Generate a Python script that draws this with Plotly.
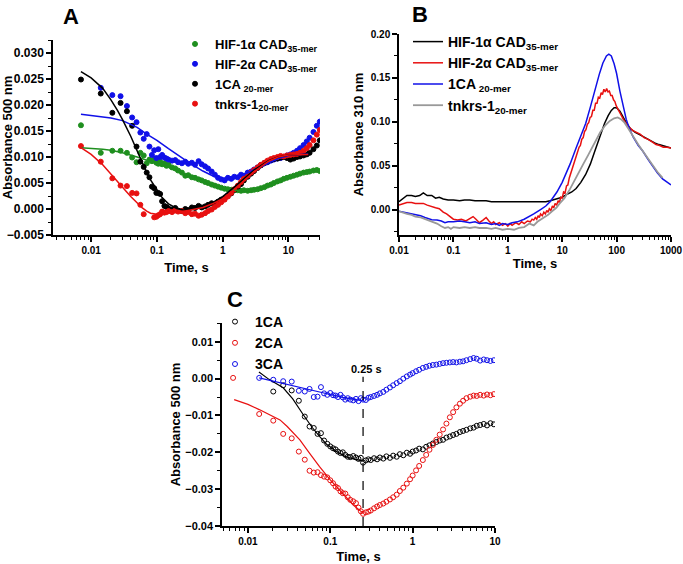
import math
import plotly.graph_objects as go

FONT = "Liberation Sans, Arial, sans-serif"
W, H = 683, 564

# ---------------- panel A: absorbance 500 nm, points + fits ----------------
a_green_t = [0.007, 0.014, 0.021, 0.028, 0.035, 0.042, 0.049, 0.056, 0.063, 0.070, 0.077, 0.084,
             0.091, 0.098, 0.105, 0.112, 0.12, 0.13, 0.14, 0.15, 0.17, 0.19, 0.21, 0.24, 0.27, 0.3,
             0.34, 0.38, 0.43, 0.48, 0.54, 0.6, 0.68, 0.76, 0.85, 0.95, 1.07, 1.2, 1.35, 1.5, 1.7,
             1.9, 2.1, 2.4, 2.7, 3.0, 3.4, 3.8, 4.3, 4.8, 5.4, 6.0, 6.8, 7.6, 8.5, 9.5, 10.7, 12,
             13.5, 15, 17, 19, 21, 24, 27, 30]
a_green_v = [0.0161, 0.0108, 0.0112, 0.0112, 0.0108, 0.0099, 0.0090, 0.0108, 0.0103, 0.0088, 0.0095,
             0.0092, 0.0096, 0.0089, 0.0087, 0.0091, 0.0086, 0.0088, 0.0083, 0.0085, 0.0080, 0.0078,
             0.0074, 0.0070, 0.0064, 0.0065, 0.0061, 0.0060, 0.0057, 0.0055, 0.0052, 0.0050, 0.0047,
             0.0045, 0.0043, 0.0041, 0.0039, 0.0038, 0.0037, 0.0036, 0.0036, 0.0035, 0.0036, 0.0035,
             0.0036, 0.0037, 0.0038, 0.0040, 0.0042, 0.0045, 0.0047, 0.0050, 0.0053, 0.0055, 0.0058,
             0.0060, 0.0062, 0.0064, 0.0066, 0.0068, 0.0070, 0.0071, 0.0072, 0.0074, 0.0075, 0.0073]
a_green_fit_t = [0.007, 0.01, 0.015, 0.02, 0.03, 0.05, 0.07, 0.1, 0.15, 0.2, 0.3, 0.5, 0.7, 1, 1.5,
                 2, 3, 5, 7, 10, 15, 20, 30]
a_green_fit_v = [0.0118, 0.0117, 0.0115, 0.0113, 0.0108, 0.0100, 0.0094, 0.0088, 0.0080, 0.0073,
                 0.0064, 0.0053, 0.0046, 0.0040, 0.0036, 0.0035, 0.0036, 0.0043, 0.0051, 0.0059,
                 0.0067, 0.0071, 0.0074]

a_blue_t = [0.014, 0.021, 0.028, 0.035, 0.042, 0.049, 0.056, 0.063, 0.070, 0.077, 0.084, 0.091,
            0.098, 0.105, 0.112, 0.12, 0.13, 0.14, 0.15, 0.17, 0.19, 0.21, 0.24, 0.27, 0.3, 0.34,
            0.38, 0.43, 0.48, 0.54, 0.6, 0.68, 0.76, 0.85, 0.95, 1.07, 1.2, 1.35, 1.5, 1.7, 1.9,
            2.1, 2.4, 2.7, 3.0, 3.4, 3.8, 4.3, 4.8, 5.4, 6.0, 6.8, 7.6, 8.5, 9.5, 10.7, 12, 13.5,
            15, 17, 19, 21, 24, 27, 30]
a_blue_v = [0.0233, 0.0219, 0.0217, 0.0198, 0.0176, 0.0167, 0.0147, 0.0135, 0.0144, 0.0120, 0.0104,
            0.0113, 0.0098, 0.0115, 0.0100, 0.0104, 0.0099, 0.0097, 0.0095, 0.0093, 0.0094, 0.0090,
            0.0088, 0.0091, 0.0087, 0.0089, 0.0085, 0.0092, 0.0086, 0.0082, 0.0078, 0.0072, 0.0066,
            0.0060, 0.0057, 0.0055, 0.0060, 0.0058, 0.0062, 0.0061, 0.0066, 0.0064, 0.0070, 0.0072,
            0.0076, 0.0080, 0.0084, 0.0088, 0.0090, 0.0093, 0.0095, 0.0097, 0.0098, 0.0100, 0.0103,
            0.0105, 0.0108, 0.0112, 0.0117, 0.0123, 0.0130, 0.0137, 0.0148, 0.0160, 0.0168]
a_blue_fit_t = [0.007, 0.01, 0.02, 0.03, 0.05, 0.07, 0.1, 0.15, 0.2, 0.3, 0.5, 0.7, 1, 1.5, 2, 3,
                5, 7, 10, 15, 20]
a_blue_fit_v = [0.0182, 0.0180, 0.0175, 0.0170, 0.0157, 0.0144, 0.0132, 0.0116, 0.0105, 0.0090,
                0.0073, 0.0064, 0.0059, 0.0060, 0.0065, 0.0075, 0.0089, 0.0097, 0.0103, 0.0105,
                0.0106]

a_black_t = [0.007, 0.014, 0.021, 0.028, 0.035, 0.042, 0.049, 0.056, 0.063, 0.070, 0.077, 0.084,
             0.091, 0.098, 0.105, 0.112, 0.12, 0.13, 0.14, 0.15, 0.17, 0.19, 0.21, 0.24, 0.27, 0.3,
             0.34, 0.38, 0.43, 0.48, 0.54, 0.6, 0.68, 0.76, 0.85, 0.95, 1.07, 1.2, 1.35, 1.5, 1.7,
             1.9, 2.1, 2.4, 2.7, 3.0, 3.4, 3.8, 4.3, 4.8, 5.4, 6.0, 6.8, 7.6, 8.5, 9.5, 10.7, 12,
             13.5, 15, 17, 19, 21, 24, 27, 30]
a_black_v = [0.0249, 0.0222, 0.0185, 0.0204, 0.0188, 0.0160, 0.0120, 0.0091, 0.0081, 0.0070, 0.0061,
             0.0043, 0.0040, 0.0031, 0.0031, 0.0029, 0.0015, 0.0006, 0.0004, 0.0001, -0.0001, 0.0002,
             -0.0003, -0.0004, 0.0000, -0.0002, 0.0003, 0.0002, 0.0006, 0.0003, 0.0005, 0.0008,
             0.0011, 0.0009, 0.0014, 0.0018, 0.0020, 0.0026, 0.0030, 0.0037, 0.0043, 0.0048, 0.0055,
             0.0062, 0.0068, 0.0073, 0.0079, 0.0084, 0.0088, 0.0091, 0.0094, 0.0096, 0.0097, 0.0099,
             0.0100, 0.0098, 0.0095, 0.0097, 0.0100, 0.0101, 0.0103, 0.0105, 0.0108, 0.0115, 0.0122,
             0.0132]
a_black_fit_t = [0.007, 0.01, 0.015, 0.02, 0.025, 0.03, 0.04, 0.05, 0.06, 0.07, 0.08, 0.1, 0.12,
                 0.15, 0.2, 0.25, 0.3, 0.4, 0.5, 0.7, 1, 1.5, 2, 3, 5, 7, 10, 15, 20]
a_black_fit_v = [0.0264, 0.0252, 0.0232, 0.0210, 0.0190, 0.0172, 0.0140, 0.0112, 0.0088, 0.0070,
                 0.0056, 0.0036, 0.0022, 0.0010, 0.0001, -0.0002, -0.0002, 0.0001, 0.0004, 0.0012,
                 0.0024, 0.0042, 0.0056, 0.0075, 0.0093, 0.0100, 0.0104, 0.0105, 0.0105]

a_red_t = [0.007, 0.014, 0.021, 0.028, 0.035, 0.042, 0.049, 0.056, 0.063, 0.091, 0.098, 0.105,
           0.112, 0.12, 0.13, 0.14, 0.15, 0.17, 0.19, 0.21, 0.24, 0.27, 0.3, 0.34, 0.38, 0.43,
           0.48, 0.54, 0.6, 0.68, 0.76, 0.85, 0.95, 1.07, 1.2, 1.35, 1.5, 1.7, 1.9, 2.1, 2.4, 2.7,
           3.0, 3.4, 3.8, 4.3, 4.8, 5.4, 6.0, 6.8, 7.6, 8.5, 9.5, 10.7, 12, 13.5, 15, 17, 19, 21,
           24, 27, 30]
a_red_v = [0.0121, 0.0091, 0.0059, 0.0045, 0.0044, 0.0031, 0.0030, 0.0008, -0.0010, -0.0016,
           -0.0015, -0.0012, -0.0010, -0.0005, -0.0007, -0.0006, -0.0004, -0.0006, -0.0003, -0.0005,
           -0.0004, -0.0008, -0.0006, -0.0010, -0.0009, -0.0013, -0.0011, -0.0008, -0.0004, -0.0001,
           0.0004, 0.0008, 0.0013, 0.0018, 0.0024, 0.0031, 0.0038, 0.0045, 0.0052, 0.0058, 0.0064,
           0.0070, 0.0075, 0.0080, 0.0085, 0.0089, 0.0093, 0.0096, 0.0098, 0.0100, 0.0102, 0.0101,
           0.0103, 0.0104, 0.0105, 0.0106, 0.0108, 0.0112, 0.0117, 0.0123, 0.0132, 0.0143, 0.0152]
a_red_fit_t = [0.007, 0.01, 0.015, 0.02, 0.03, 0.04, 0.05, 0.06, 0.07, 0.08, 0.1, 0.15, 0.2, 0.3,
               0.5, 0.7, 1, 1.5, 2, 3, 5, 7, 10, 15, 20]
a_red_fit_v = [0.0118, 0.0105, 0.0085, 0.0068, 0.0042, 0.0024, 0.0012, 0.0002, -0.0004, -0.0008,
               -0.0010, -0.0008, -0.0006, -0.0003, 0.0003, 0.0010, 0.0020, 0.0037, 0.0052, 0.0072,
               0.0092, 0.0100, 0.0104, 0.0105, 0.0105]

# ---------------- panel B: absorbance 310 nm traces ----------------
b_black_t = [0.01, 0.012, 0.014, 0.017, 0.02, 0.024, 0.028, 0.033, 0.04, 0.047, 0.055, 0.065, 0.08,
             0.1, 0.13, 0.16, 0.2, 0.25, 0.3, 0.4, 0.5, 0.7, 1, 1.5, 2, 3, 4, 5, 6, 8, 10, 12, 15,
             18, 22, 27, 33, 40, 50, 60, 70, 80, 90, 100, 115, 130, 150, 180, 220, 270, 330, 400,
             500, 600, 750, 900, 1000]
b_black_v = [0.009, 0.013, 0.016, 0.016, 0.015, 0.016, 0.019, 0.016, 0.016, 0.013, 0.014, 0.012,
             0.011, 0.011, 0.010, 0.011, 0.011, 0.010, 0.010, 0.010, 0.009, 0.009, 0.009, 0.009,
             0.009, 0.009, 0.009, 0.009, 0.010, 0.012, 0.014, 0.017, 0.020, 0.024, 0.031, 0.040,
             0.052, 0.067, 0.085, 0.098, 0.107, 0.113, 0.116, 0.116, 0.112, 0.106, 0.099, 0.092,
             0.088, 0.085, 0.082, 0.079, 0.076, 0.074, 0.072, 0.071, 0.070]

b_red_t = [0.01, 0.012, 0.014, 0.017, 0.02, 0.024, 0.028, 0.033, 0.04, 0.047, 0.055, 0.065, 0.075,
           0.085, 0.1, 0.12, 0.14, 0.17, 0.2, 0.23, 0.26, 0.3, 0.35, 0.4, 0.45, 0.5, 0.55, 0.6,
           0.7, 0.8, 0.9, 1.0, 1.1, 1.2, 1.4, 1.6, 1.8, 2.0, 2.3, 2.6, 2.8,
           3.0, 3.2, 3.4, 3.6, 3.8, 4.0, 4.3, 4.6, 4.9, 5.2, 5.5, 5.8, 6.2, 6.6, 7.0, 7.4, 7.9,
           8.4, 8.9, 9.4, 10, 10.6, 11.3, 12, 12.7, 13.5, 14.3, 15.2, 16.1, 17.1, 18.1, 19.2,
           20.4, 21.6, 22.9, 24.3, 25.8, 27.3, 29, 30.7, 32.6, 34.5, 36.6, 38.8, 41.1, 43.6,
           46.2, 49, 52, 55, 58.4, 61.9, 65.6, 69.5, 73.7, 78.1, 82.8, 87.8, 93, 98.6, 105, 111,
           118, 125, 133, 141, 150, 175, 200, 230, 270, 320, 380, 450, 530, 620, 720, 850, 1000]
b_red_v = [0.005, 0.007, 0.008, 0.008, 0.007, 0.007, 0.007, 0.005, 0.003, 0.002, 0.001, -0.003,
           -0.005, -0.008, -0.011, -0.012, -0.011, -0.013, -0.010, -0.008, -0.011, -0.015, -0.012,
           -0.009, -0.013, -0.016, -0.014, -0.017, -0.015, -0.018, -0.016, -0.019, -0.016, -0.018,
           -0.015, -0.017, -0.014, -0.016, -0.013, -0.014, -0.011,
           -0.012, -0.009, -0.011, -0.007, -0.009, -0.005, -0.007, -0.003, -0.005, -0.001, -0.003,
           0.001, -0.001, 0.004, 0.002, 0.007, 0.005, 0.010, 0.008, 0.014, 0.013, 0.020, 0.019,
           0.027, 0.028, 0.036, 0.041, 0.044, 0.051, 0.055, 0.061, 0.064, 0.071, 0.073, 0.080,
           0.082, 0.089, 0.091, 0.097, 0.099, 0.105, 0.106, 0.113, 0.113, 0.121, 0.121, 0.128,
           0.127, 0.133, 0.131, 0.137, 0.134, 0.138, 0.134, 0.135, 0.130, 0.130, 0.125, 0.123,
           0.118, 0.115, 0.111, 0.108, 0.105, 0.103, 0.100, 0.098, 0.093, 0.090, 0.088, 0.086,
           0.082, 0.080, 0.077, 0.074, 0.073, 0.071, 0.071, 0.070]

b_blue_t = [0.01, 0.012, 0.014, 0.017, 0.02, 0.025, 0.03, 0.035, 0.04, 0.05, 0.06, 0.07, 0.08, 0.1,
            0.13, 0.16, 0.2, 0.25, 0.3, 0.4, 0.5, 0.6, 0.7, 0.8, 1.0, 1.2, 1.5, 2.0, 2.5, 3, 4, 5,
            6, 8, 10, 12, 14, 18, 22, 27, 33, 40, 48, 56, 65, 72, 80, 90, 100, 115, 130, 150, 170,
            200, 250, 300, 380, 460, 560, 700, 850, 1000]
b_blue_v = [-0.002, -0.003, -0.004, -0.005, -0.006, -0.007, -0.009, -0.010, -0.0115, -0.012, -0.013,
            -0.015, -0.014, -0.014, -0.013, -0.014, -0.015, -0.014, -0.016, -0.015, -0.017, -0.016,
            -0.018, -0.016, -0.017, -0.015, -0.014, -0.011, -0.008, -0.005, 0.000, 0.004, 0.009,
            0.020, 0.031, 0.042, 0.052, 0.070, 0.083, 0.098, 0.117, 0.137, 0.154, 0.167, 0.175,
            0.177, 0.175, 0.166, 0.155, 0.135, 0.119, 0.103, 0.093, 0.083, 0.073, 0.067, 0.057,
            0.049, 0.042, 0.035, 0.031, 0.028]

b_grey_t = [0.01, 0.012, 0.014, 0.017, 0.02, 0.025, 0.03, 0.035, 0.04, 0.05, 0.06, 0.07, 0.08, 0.09,
            0.1, 0.13, 0.16, 0.2, 0.25, 0.3, 0.4, 0.5, 0.6, 0.8, 1.0, 1.3, 1.6, 2.0, 2.5, 3.0, 3.5,
            4.4, 5.5, 6.5, 7.8, 9, 11, 13.8, 17, 20, 24.5, 30, 36, 42, 50, 62, 75, 90, 105, 120,
            140, 165, 200, 250, 300, 380, 460, 560, 700]
b_grey_v = [-0.002, -0.004, -0.005, -0.006, -0.008, -0.009, -0.011, -0.012, -0.014, -0.016, -0.019,
            -0.021, -0.020, -0.022, -0.020, -0.021, -0.020, -0.021, -0.020, -0.021, -0.021, -0.022,
            -0.021, -0.023, -0.022, -0.023, -0.021, -0.020, -0.016, -0.018, -0.014, -0.010, -0.006,
            -0.002, 0.002, 0.007, 0.013, 0.023, 0.034, 0.042, 0.052, 0.062, 0.071, 0.079, 0.088,
            0.096, 0.101, 0.104, 0.105, 0.103, 0.099, 0.092, 0.083, 0.074, 0.067, 0.058, 0.050,
            0.043, 0.036]

# ---------------- panel C: absorbance 500 nm, open circles ----------------
c_t = [0.0137, 0.0203, 0.0268, 0.034, 0.0415, 0.049, 0.056, 0.063, 0.07, 0.077, 0.084, 0.092, 0.1,
       0.108, 0.116, 0.124, 0.133, 0.142, 0.152, 0.163, 0.175, 0.19, 0.205, 0.22, 0.235, 0.25,
       0.27, 0.29, 0.31, 0.34, 0.37, 0.4, 0.44, 0.48, 0.53, 0.58, 0.64, 0.7, 0.77, 0.85, 0.93,
       1.0, 1.1, 1.2, 1.33, 1.46, 1.6, 1.76, 1.94, 2.13, 2.34, 2.57, 2.83, 3.1, 3.4, 3.75, 4.1,
       4.5, 5.0, 5.5, 6.0, 6.6, 7.3, 8.0, 8.8, 9.7]
c_black_v = [None, -0.0035, -0.0018, -0.0032, -0.0060, -0.0103, -0.0130, -0.0134, -0.0150, -0.0148,
             -0.0168, -0.0177, -0.0184, -0.0189, -0.0192, -0.0198, -0.0202, -0.0200, -0.0207,
             -0.0212, -0.0213, -0.0210, -0.0214, -0.0218, -0.0215, -0.0228, -0.0222, -0.0219,
             -0.0221, -0.0216, -0.0219, -0.0214, -0.0217, -0.0211, -0.0215, -0.0209, -0.0212,
             -0.0205, -0.0208, -0.0201, -0.0204, -0.0198, -0.0195, -0.0190, -0.0192, -0.0185,
             -0.0181, -0.0176, -0.0172, -0.0168, -0.0166, -0.0160, -0.0157, -0.0153, -0.0150,
             -0.0145, -0.0142, -0.0139, -0.0135, -0.0133, -0.0128, -0.0126, -0.0123, -0.0127,
             -0.0121, -0.0124]
c_red_v = [-0.0096, -0.0114, -0.0150, -0.0162, -0.0198, -0.0220, -0.0250, -0.0255, -0.0254, -0.0262,
           -0.0266, -0.0268, -0.0276, -0.0284, -0.0293, -0.0297, -0.0306, -0.0311, -0.0312, -0.0322,
           -0.0329, -0.0333, -0.0338, -0.0350, -0.0360, -0.0367, -0.0363, -0.0361, -0.0358, -0.0352,
           -0.0347, -0.0343, -0.0339, -0.0334, -0.0328, -0.0322, -0.0315, -0.0305, -0.0296,
           -0.0285, -0.0273, -0.0263, -0.0249, -0.0237, -0.0221, -0.0207, -0.0193, -0.0180,
           -0.0166, -0.0152, -0.0138, -0.0122, -0.0105, -0.0091, -0.0078, -0.0068, -0.0060,
           -0.0053, -0.0049, -0.0046, -0.0047, -0.0044, -0.0046, -0.0043, -0.0045, -0.0042]
c_blue_v = [0.0002, -0.0003, -0.0007, -0.0008, -0.0033, -0.0035, -0.0028, -0.0050, -0.0049, -0.0023,
            -0.0040, -0.0044, -0.0039, -0.0045, -0.0046, -0.0050, -0.0044, -0.0051, -0.0057,
            -0.0053, -0.0057, -0.0059, -0.0055, -0.0061, -0.0053, -0.0057, -0.0058, -0.0052,
            -0.0050, -0.0047, -0.0044, -0.0040, -0.0036, -0.0030, -0.0024, -0.0018, -0.0012,
            -0.0007, 0.0000, 0.0006, 0.0011, 0.0015, 0.0020, 0.0024, 0.0029, 0.0032, 0.0035,
            0.0037, 0.0038, 0.0040, 0.0042, 0.0043, 0.0044, 0.0045, 0.0044, 0.0046, 0.0047,
            0.0050, 0.0053, 0.0056, 0.0054, 0.0049, 0.0052, 0.0050, 0.0048, 0.0050]
c_red_extra_t = [0.0066]
c_red_extra_v = [0.0002]

c_black_fit_t = [0.0136, 0.018, 0.0268, 0.035, 0.047, 0.06, 0.074, 0.09, 0.119, 0.15, 0.19, 0.25]
c_black_fit_v = [0.0018, -0.0002, -0.0025, -0.0055, -0.0098, -0.0132, -0.0157, -0.0178, -0.0198,
                 -0.0211, -0.0218, -0.0224]
c_red_fit_t = [0.0068, 0.01, 0.0137, 0.02, 0.0245, 0.03, 0.0427, 0.055, 0.074, 0.1, 0.119, 0.15,
               0.19, 0.25]
c_red_fit_v = [-0.0057, -0.0070, -0.0084, -0.0103, -0.0112, -0.0130, -0.0166, -0.0200, -0.0239,
               -0.0275, -0.0293, -0.0318, -0.0343, -0.0365]
c_blue_fit_t = [0.0137, 0.03, 0.06, 0.1, 0.15, 0.2, 0.25]
c_blue_fit_v = [0.0002, -0.0015, -0.0030, -0.0043, -0.0052, -0.0057, -0.0060]

c_marker_time = 0.25
c_marker_y = [-0.04, 0.0005]

GREEN, BLUE, RED, BLACK, GREY = "#1f8f1f", "#1010e8", "#e81010", "#000000", "#999999"

fig = go.Figure()


def dots(t, v, color, name, xa, ya, legend, show=True, open_=False, size=5):
    sym = "circle-open" if open_ else "circle"
    fig.add_trace(go.Scatter(x=t, y=v, mode="markers", name=name, legend=legend, showlegend=show,
                             marker=dict(color=color, size=size, symbol=sym,
                                         line=dict(width=1, color=color)),
                             xaxis=xa, yaxis=ya))


def line(t, v, color, name, xa, ya, legend, show=False, width=1.5, dash="solid"):
    fig.add_trace(go.Scatter(x=t, y=v, mode="lines", name=name, legend=legend, showlegend=show,
                             line=dict(color=color, width=width, dash=dash),
                             xaxis=xa, yaxis=ya))


# panel A
dots(a_green_t, a_green_v, GREEN, "HIF-1α CAD<sub>35-mer</sub>", "x", "y", "legend")
dots(a_blue_t, a_blue_v, BLUE, "HIF-2α CAD<sub>35-mer</sub>", "x", "y", "legend")
dots(a_black_t, a_black_v, BLACK, "1CA<sub> 20-mer</sub>", "x", "y", "legend")
dots(a_red_t, a_red_v, RED, "tnkrs-1<sub>20-mer</sub>", "x", "y", "legend")
line(a_green_fit_t, a_green_fit_v, GREEN, "fit", "x", "y", "legend")
line(a_blue_fit_t, a_blue_fit_v, BLUE, "fit", "x", "y", "legend")
line(a_black_fit_t, a_black_fit_v, BLACK, "fit", "x", "y", "legend")
line(a_red_fit_t, a_red_fit_v, RED, "fit", "x", "y", "legend")

# panel B
line(b_black_t, b_black_v, BLACK, "HIF-1α CAD<sub>35-mer</sub>", "x2", "y2", "legend2", True, 1.5)
line(b_red_t, b_red_v, RED, "HIF-2α CAD<sub>35-mer</sub>", "x2", "y2", "legend2", True, 1.5)
line(b_blue_t, b_blue_v, BLUE, "1CA<sub> 20-mer</sub>", "x2", "y2", "legend2", True, 1.5)
line(b_grey_t, b_grey_v, GREY, "tnkrs-1<sub>20-mer</sub>", "x2", "y2", "legend2", True, 1.8)

# panel C
dots(c_t, c_black_v, BLACK, "1CA", "x3", "y3", "legend3", open_=True, size=5)
dots(c_red_extra_t + c_t, c_red_extra_v + c_red_v, RED, "2CA", "x3", "y3", "legend3", open_=True,
     size=5)
dots(c_t, c_blue_v, BLUE, "3CA", "x3", "y3", "legend3", open_=True, size=5)
line(c_black_fit_t, c_black_fit_v, BLACK, "fit", "x3", "y3", "legend3", width=1.2)
line(c_red_fit_t, c_red_fit_v, RED, "fit", "x3", "y3", "legend3", width=1.2)
line(c_blue_fit_t, c_blue_fit_v, BLUE, "fit", "x3", "y3", "legend3", width=1.2)
line([c_marker_time, c_marker_time], c_marker_y, BLACK, "0.25 s", "x3", "y3", "legend3",
     width=1.2, dash="dash")


def px_x(a, b):
    return [a / W, b / W]


def px_y(top, bottom):
    return [1 - bottom / H, 1 - top / H]


def log_axis(domain, rng, vals, texts, anchor, tsize, title, standoff):
    return dict(type="log", domain=domain, range=rng, anchor=anchor, automargin=False,
                tickmode="array", tickvals=vals, ticktext=texts, ticklabeloverflow="allow",
                showline=True, linecolor="black", linewidth=1.5, mirror=False,
                ticks="outside", ticklen=5, tickwidth=1.5, tickcolor="black",
                minor=dict(ticks="outside", ticklen=3, tickwidth=1, tickcolor="black",
                           dtick="D1", showgrid=False),
                showgrid=False, zeroline=False,
                tickfont=dict(family=FONT, size=tsize, color="black", weight="bold"),
                title=dict(text=title, standoff=standoff,
                           font=dict(family=FONT, size=13, color="black", weight="bold")))


def lin_axis(domain, rng, dtick, fmt, anchor, tsize, title, standoff):
    return dict(domain=domain, range=rng, anchor=anchor, automargin=False, dtick=dtick, tick0=0,
                tickformat=fmt, ticklabeloverflow="allow",
                showline=True, linecolor="black", linewidth=1.5, mirror=False,
                ticks="outside", ticklen=5, tickwidth=1.5, tickcolor="black",
                minor=dict(ticks="outside", ticklen=3, tickwidth=1, tickcolor="black",
                           dtick=dtick / 2, showgrid=False),
                showgrid=False, zeroline=False,
                tickfont=dict(family=FONT, size=tsize, color="black", weight="bold"),
                title=dict(text=title, standoff=standoff,
                           font=dict(family=FONT, size=13, color="black", weight="bold")))


def legend_box(x, y, size):
    return dict(x=x / W, y=1 - y / H, xanchor="left", yanchor="top", bgcolor="rgba(0,0,0,0)",
                itemwidth=30, font=dict(family=FONT, size=size, color="black", weight="bold"),
                tracegroupgap=0)


def letter(text, x, y):
    return dict(text=f"<b>{text}</b>", x=x / W, y=1 - y / H, xref="paper", yref="paper",
                xanchor="center", yanchor="middle", showarrow=False,
                font=dict(family=FONT, size=22, color="black"))


fig.update_layout(
    width=W, height=H, margin=dict(l=0, r=0, t=0, b=0, autoexpand=False),
    paper_bgcolor="white", plot_bgcolor="white",
    xaxis=log_axis(px_x(53, 320), [-2.58, 1.48], [0.01, 0.1, 1, 10], ["0.01", "0.1", "1", "10"],
                   "y", 10, "Time, s", 8),
    yaxis=lin_axis(px_y(40, 235), [-0.005, 0.0325], 0.005, ".3f", "x", 12,
                   "Absorbance 500 nm", 2),
    xaxis2=log_axis(px_x(399, 671), [-2, 3], [0.01, 0.1, 1, 10, 100, 1000],
                    ["0.01", "0.1", "1", "10", "100", "1000"], "y2", 10, "Time, s", 3),
    yaxis2=lin_axis(px_y(34, 235), [-0.029, 0.2], 0.05, ".2f", "x2", 10,
                    "Absorbance 310 nm", 4),
    xaxis3=log_axis(px_x(222, 495), [-2.315, 1.0], [0.01, 0.1, 1, 10],
                    ["0.01", "0.1", "1", "10"], "y3", 10, "Time, s", 6),
    yaxis3=lin_axis(px_y(323, 526), [-0.04, 0.0151], 0.01, ".2f", "x3", 11,
                    "Absorbance 500 nm", 2),
    legend=legend_box(175, 29, 13),
    legend2=legend_box(408, 26, 14),
    legend3=legend_box(215, 306, 14),
    annotations=[
        letter("A", 71, 16),
        letter("B", 420, 15),
        letter("C", 235, 299),
        dict(text="<b>0.25 s</b>", x=math.log10(c_marker_time), y=c_marker_y[1], xref="x3",
             yref="y3", yanchor="bottom", xshift=3, showarrow=False,
             font=dict(family=FONT, size=11, color="black")),
    ],
)

fig.write_html("out.html", config={"displayModeBar": False},
               post_script="document.body.style.margin = '0px';")
